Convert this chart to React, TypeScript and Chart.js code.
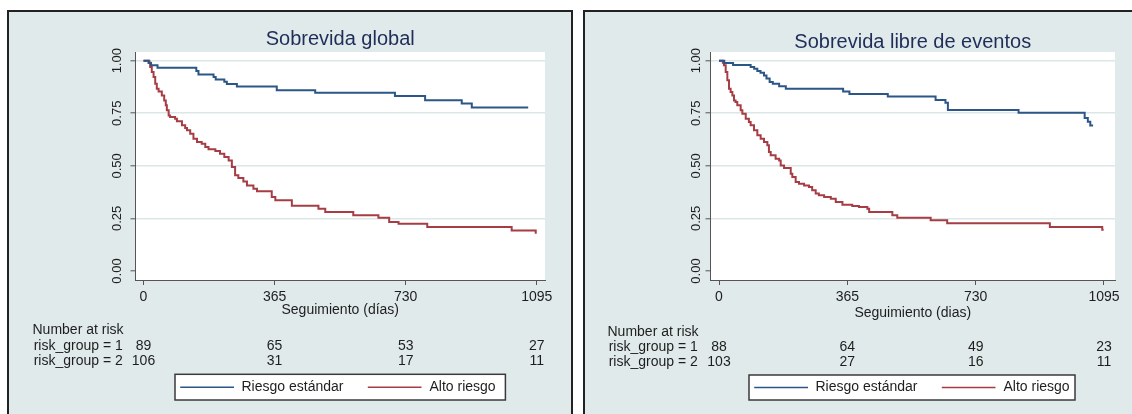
import React, { useEffect, useRef } from 'react';
import { Chart, registerables } from 'chart.js';

Chart.register(...registerables);

// ---------- data ----------
const xTickValues = [0, 365, 730, 1095];
const yTickValues = [0, 0.25, 0.5, 0.75, 1];
const seriesLabels = ['Riesgo estándar', 'Alto riesgo'];
const riskRowLabels = ['risk_group = 1', 'risk_group = 2'];

// Sobrevida global
const osStdDays = [0, 14, 21, 39, 147, 153, 195, 201, 225, 232, 260, 371, 478, 700, 784, 886, 914, 1071];
const osStdSurv = [1, 0.989, 0.978, 0.967, 0.951, 0.935, 0.922, 0.911, 0.9, 0.889, 0.877, 0.859, 0.848, 0.832, 0.812, 0.796, 0.777, 0.777];
const osHighDays = [0, 16, 18.5, 23, 28, 32.6, 37, 42, 51, 57.6, 62, 65, 70, 74, 88, 93, 107, 116, 121, 130, 139, 149, 162, 172, 181, 200, 213, 225, 237, 246, 255, 264, 278, 288, 306, 316, 357, 367, 413, 487, 506, 584, 654, 684, 710, 790, 1025, 1092];
const osHighSurv = [1, 0.991, 0.97, 0.946, 0.922, 0.891, 0.867, 0.854, 0.835, 0.811, 0.788, 0.764, 0.74, 0.732, 0.724, 0.712, 0.693, 0.68, 0.669, 0.653, 0.629, 0.613, 0.605, 0.59, 0.579, 0.571, 0.558, 0.542, 0.526, 0.495, 0.455, 0.442, 0.426, 0.407, 0.391, 0.379, 0.352, 0.336, 0.31, 0.296, 0.281, 0.265, 0.253, 0.233, 0.225, 0.209, 0.193, 0.177];
const osAtRisk1 = [89, 65, 53, 27];
const osAtRisk2 = [106, 31, 17, 11];

// Sobrevida libre de eventos
const efsStdDays = [0, 15, 40, 90, 100, 109, 118, 128, 135, 144, 153, 171, 190, 353, 371, 480, 616, 644, 651, 852, 1040, 1049, 1056, 1064];
const efsStdSurv = [1, 0.989, 0.98, 0.97, 0.962, 0.951, 0.943, 0.93, 0.915, 0.899, 0.89, 0.879, 0.867, 0.854, 0.842, 0.83, 0.813, 0.8, 0.766, 0.752, 0.727, 0.71, 0.692, 0.692];
const efsHighDays = [0, 11, 14, 19, 23.7, 28.4, 33, 38, 42.7, 47, 52, 61.6, 66.4, 76, 85, 90, 99.5, 109, 118.5, 128, 137.5, 142, 147, 161, 171, 175.5, 185, 204, 208.5, 218, 227.5, 242, 256, 265, 275, 284, 299, 318, 332, 351, 379, 398, 422, 427, 493, 507, 602, 649, 941, 1090, 1094];
const efsHighSurv = [1, 0.99, 0.978, 0.946, 0.907, 0.867, 0.851, 0.835, 0.811, 0.804, 0.788, 0.764, 0.748, 0.724, 0.709, 0.693, 0.669, 0.645, 0.629, 0.613, 0.598, 0.566, 0.55, 0.534, 0.526, 0.502, 0.49, 0.463, 0.447, 0.423, 0.415, 0.407, 0.399, 0.384, 0.368, 0.36, 0.352, 0.344, 0.328, 0.315, 0.309, 0.304, 0.296, 0.281, 0.265, 0.253, 0.241, 0.227, 0.209, 0.196, 0.196];
const efsAtRisk1 = [88, 64, 49, 23];
const efsAtRisk2 = [103, 27, 16, 11];

// ---------- style ----------
const FONT = "'Liberation Sans', Arial, Helvetica, sans-serif";
const BLUE = '#2b5687';
const RED = '#a63d45';
const TEXT = '#1e1e1e';
const TITLE = '#1f2d58';
const PANEL_BG = '#e0eaea';
const GRID = '#dbe6e7';
const AXIS = '#555555';

type Panel = {
  title: string;
  xTitle: string;
  stdDays: number[];
  stdSurv: number[];
  highDays: number[];
  highSurv: number[];
  risk1: number[];
  risk2: number[];
  xMin: number;
  xMax: number;
  pad: { left: number; right: number; top: number; bottom: number };
  xAxisH: number;
  xTitlePadBottom: number;
  yTickPad: number;
  titleY: number;
  riskX: number;
  riskY: number[];
  legend: { x: number; y: number; w: number; h: number };
};

const panels: Panel[] = [
  {
    title: 'Sobrevida global',
    xTitle: 'Seguimiento (días)',
    stdDays: osStdDays, stdSurv: osStdSurv, highDays: osHighDays, highSurv: osHighSurv,
    risk1: osAtRisk1, risk2: osAtRisk2,
    xMin: -22.3, xMax: 1117.8,
    pad: { left: 95.5, right: 587, top: 52, bottom: 94 },
    xAxisH: 40, xTitlePadBottom: 1.6, yTickPad: 0,
    titleY: 44.5,
    riskX: 32.5, riskY: [330, 345.7, 361],
    legend: { x: 175, y: 374.3, w: 330.4, h: 25.7 },
  },
  {
    title: 'Sobrevida libre de eventos',
    xTitle: 'Seguimiento (dias)',
    stdDays: efsStdDays, stdSurv: efsStdSurv, highDays: efsHighDays, highSurv: efsHighSurv,
    risk1: efsAtRisk1, risk2: efsAtRisk2,
    xMin: -24.2, xMax: 1126.3,
    pad: { left: 670.5, right: 17, top: 52, bottom: 91 },
    xAxisH: 43, xTitlePadBottom: 1.3, yTickPad: -3.5,
    titleY: 47.5,
    riskX: 607.5, riskY: [331.7, 346.7, 362.3],
    legend: { x: 749, y: 375, w: 326, h: 25 },
  },
];

function makePlugin(p: Panel) {
  return {
    id: 'kmExtras',
    beforeDraw(chart: any) {
      const { ctx, chartArea: a } = chart;
      ctx.save();
      ctx.fillStyle = '#ffffff';
      ctx.fillRect(a.left, a.top, a.right - a.left, a.bottom - a.top);
      ctx.restore();
    },
    afterDraw(chart: any) {
      const { ctx, chartArea: a } = chart;
      const xs = chart.scales.x;
      ctx.save();
      // title
      ctx.font = `20px ${FONT}`;
      ctx.fillStyle = TITLE;
      ctx.textAlign = 'center';
      ctx.textBaseline = 'alphabetic';
      ctx.fillText(p.title, (a.left + a.right) / 2, p.titleY);

      // number at risk
      ctx.font = `14px ${FONT}`;
      ctx.fillStyle = TEXT;
      ctx.textBaseline = 'middle';
      ctx.textAlign = 'left';
      ctx.fillText('Number at risk', p.riskX, p.riskY[0]);
      ctx.fillText(riskRowLabels[0], p.riskX + 1.2, p.riskY[1]);
      ctx.fillText(riskRowLabels[1], p.riskX + 1.2, p.riskY[2]);
      ctx.textAlign = 'center';
      xTickValues.forEach((v, i) => {
        const px = xs.getPixelForValue(v);
        ctx.fillText(String(p.risk1[i]), px, p.riskY[1]);
        ctx.fillText(String(p.risk2[i]), px, p.riskY[2]);
      });

      // legend
      const L = p.legend;
      ctx.fillStyle = '#ffffff';
      ctx.fillRect(L.x, L.y, L.w, L.h);
      ctx.strokeStyle = '#3a3a3a';
      ctx.lineWidth = 1.5;
      ctx.strokeRect(L.x, L.y, L.w, L.h);
      const cy = L.y + L.h / 2;
      const items = [
        { x0: 5.2, x1: 59, tx: 66.5 },
        { x0: 192.8, x1: 246.5, tx: 254.5 },
      ];
      chart.data.datasets.forEach((ds: any, i: number) => {
        const it = items[i];
        ctx.strokeStyle = ds.borderColor;
        ctx.lineWidth = 1.5;
        ctx.beginPath();
        ctx.moveTo(L.x + it.x0, cy);
        ctx.lineTo(L.x + it.x1, cy);
        ctx.stroke();
        ctx.fillStyle = TEXT;
        ctx.textAlign = 'left';
        ctx.textBaseline = 'middle';
        ctx.font = `14px ${FONT}`;
        ctx.fillText(ds.label, L.x + it.tx, cy);
      });
      ctx.restore();
    },
  };
}

function makeConfig(p: Panel): any {
  const toPts = (d: number[], s: number[]) => d.map((x, i) => ({ x, y: s[i] }));
  return {
    type: 'line',
    data: {
      datasets: [
        { label: seriesLabels[0], data: toPts(p.stdDays, p.stdSurv), borderColor: BLUE, borderWidth: 2, pointRadius: 0, stepped: 'before', fill: false },
        { label: seriesLabels[1], data: toPts(p.highDays, p.highSurv), borderColor: RED, borderWidth: 2, pointRadius: 0, stepped: 'before', fill: false },
      ],
    },
    options: {
      animation: false,
      responsive: false,
      devicePixelRatio: 1,
      layout: { padding: p.pad },
      plugins: {
        legend: { display: false },
        title: { display: false },
        tooltip: { enabled: false },
      },
      scales: {
        x: {
          type: 'linear',
          min: p.xMin,
          max: p.xMax,
          afterBuildTicks: (s: any) => { s.ticks = xTickValues.map((v) => ({ value: v })); },
          afterFit: (s: any) => { s.height = p.xAxisH; },
          ticks: {
            autoSkip: false, maxRotation: 0, minRotation: 0, padding: 4,
            color: TEXT, font: { family: FONT, size: 14 },
            callback: (v: any) => String(v),
          },
          grid: { drawOnChartArea: false, drawTicks: true, tickLength: 5, tickColor: AXIS, tickWidth: 1 },
          border: { display: true, color: AXIS, width: 1 },
          title: {
            display: true, text: p.xTitle, color: TEXT,
            font: { family: FONT, size: 14 },
            padding: { top: 0, bottom: p.xTitlePadBottom },
          },
        },
        y: {
          type: 'linear',
          min: -0.0428,
          max: 1.0414,
          afterBuildTicks: (s: any) => { s.ticks = yTickValues.map((v) => ({ value: v })); },
          afterFit: (s: any) => { s.width = 40; },
          ticks: {
            autoSkip: false, minRotation: 90, maxRotation: 90, crossAlign: 'center', padding: p.yTickPad,
            color: TEXT, font: { family: FONT, size: 13 },
            callback: (v: any) => Number(v).toFixed(2),
          },
          grid: {
            color: (c: any) => (c.tick && c.tick.value === 0 ? 'rgba(0,0,0,0)' : GRID),
            lineWidth: 1.6,
            drawTicks: true, tickLength: 5, tickColor: AXIS, tickWidth: 1,
          },
          border: { display: true, color: AXIS, width: 1 },
        },
      },
    },
    plugins: [makePlugin(p)],
  };
}

function KMChart({ panel }: { panel: Panel }) {
  const ref = useRef<HTMLCanvasElement | null>(null);
  useEffect(() => {
    if (!ref.current) return;
    const chart = new Chart(ref.current, makeConfig(panel));
    return () => chart.destroy();
  }, [panel]);
  return (
    <canvas
      ref={ref}
      width={1132}
      height={414}
      style={{ position: 'absolute', left: 0, top: 0, width: 1132, height: 414 }}
    />
  );
}

export default function App() {
  return (
    <div style={{ position: 'fixed', left: 0, top: 0, width: 1132, height: 414, overflow: 'hidden', background: '#ffffff' }}>
      <div style={{ position: 'absolute', left: 7, top: 10, width: 565.5, height: 430, boxSizing: 'border-box', border: '2px solid #222', background: PANEL_BG }} />
      <div style={{ position: 'absolute', left: 582.5, top: 10, width: 600, height: 430, boxSizing: 'border-box', border: '2px solid #222', background: PANEL_BG }} />
      <KMChart panel={panels[0]} />
      <KMChart panel={panels[1]} />
    </div>
  );
}
